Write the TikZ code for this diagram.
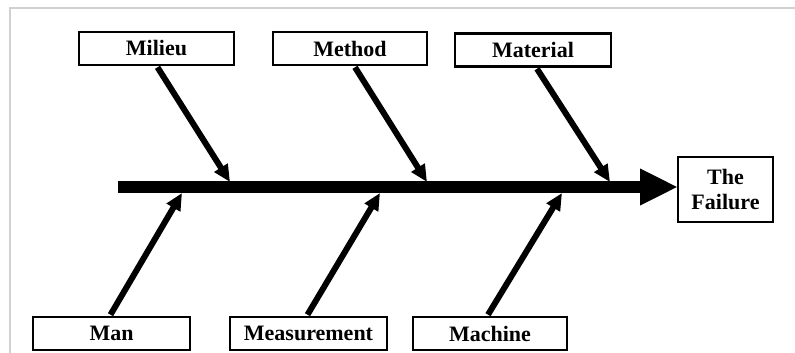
\documentclass[tikz,border=0pt]{standalone}
\usepackage{fontspec}
\setmainfont{Liberation Serif}
\usetikzlibrary{arrows.meta}
\begin{document}
\begin{tikzpicture}[x=1pt,y=-1pt,
  cause/.style={draw=black,line width=2.6pt,fill=white,minimum height=33pt,inner sep=0pt,
    font=\fontsize{22}{25}\selectfont\bfseries},
  bone/.style={line width=6pt,-{Triangle[length=17pt 0 0,width=15pt 0 0]}},
  spine/.style={line width=12pt,-{Triangle[length=38pt 0 0,width=34pt 0 0]}}]
\useasboundingbox (0,0) rectangle (795,353);
\draw[black!18,line width=1.2pt] (10,353) -- (10,8) -- (795,8);
% boxes
\node[cause,minimum width=155pt] (milieu) at (156.5,48.5) {Milieu};
\node[cause,minimum width=154pt] (method) at (350,48.5) {Method};
\node[cause,minimum width=156pt] (material) at (533,50) {Material};
\node[cause,minimum width=157pt] (man) at (111.5,333.5) {Man};
\node[cause,minimum width=157pt] (measure) at (308.5,333.5) {Measurement};
\node[cause,minimum width=154pt] (machine) at (490,333.5) {Machine};
\node[cause,minimum width=95pt,minimum height=65pt,align=center,
  font=\fontsize{22}{25}\selectfont\bfseries] (failure) at (725.5,189.5) {The\\Failure};
% spine
\coordinate (tail) at (118,187);
\coordinate (head) at (678,187);
\draw[spine] (tail) -- (head);
% attachment points
\coordinate (p1) at (230,182);
\coordinate (p2) at (427,182);
\coordinate (p3) at (610,182);
\coordinate (q1) at (182,193);
\coordinate (q2) at (380,193);
\coordinate (q3) at (562,193);
\draw[bone] ([xshift=1pt,yshift=-1pt]milieu.south) -- (p1);
\draw[bone] ([xshift=5pt,yshift=-1pt]method.south) -- (p2);
\draw[bone] ([xshift=4pt,yshift=-1pt]material.south) -- (p3);
\draw[bone] ([xshift=-1pt,yshift=1pt]man.north) -- (q1);
\draw[bone] ([xshift=-1pt,yshift=1pt]measure.north) -- (q2);
\draw[bone] ([xshift=-2pt,yshift=1pt]machine.north) -- (q3);
\end{tikzpicture}
\end{document}
